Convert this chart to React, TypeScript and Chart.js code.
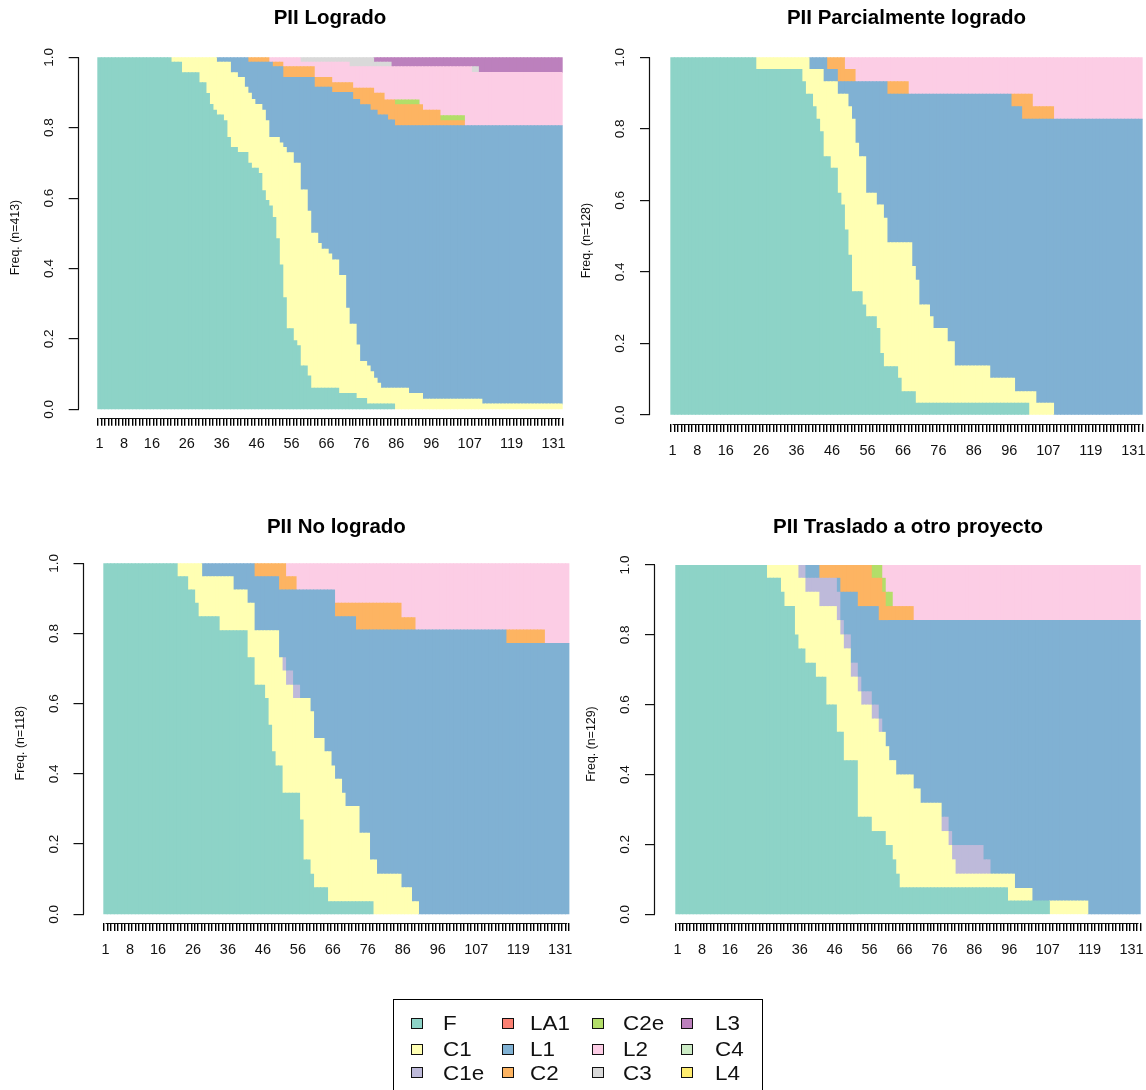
import React, { useEffect, useRef } from "react";
import { Chart, registerables } from "chart.js";

Chart.register(...registerables);

type Run = [number, number | null];

const FONT = "'Liberation Sans', Arial, Helvetica, sans-serif";
const CANVAS_W = 1200;
const CANVAS_H = 1090;
const Y_AXIS_W = 72;
const X_AXIS_H = 60;

// ---------- categories / ticks ----------
const positionCount = 133;
const positions: number[] = Array.from({ length: positionCount }, (_, i) => i + 1);
const xTickLabels = [1, 8, 16, 26, 36, 46, 56, 66, 76, 86, 96, 107, 119, 131];
const yTicks = [0, 0.2, 0.4, 0.6, 0.8, 1.0];

const stateNames = ["F", "C1", "C1e", "LA1", "L1", "C2", "C2e", "L2", "C3", "L3", "C4", "L4"];
const stateColors = ["#8DD3C7", "#FFFFB3", "#BEBADA", "#FB8072", "#80B1D3", "#FDB462", "#B3DE69", "#FCCDE5", "#D9D9D9", "#BC80BD", "#CCEBC5", "#FFED6F"];

// ---------- data: upper edge (cumulative share) of each state band, as steps [from position, value] ----------
// PII Logrado (n=413)
const logradoF: Run[] = [[1, 1.0], [22, 0.986], [25, 0.956], [30, 0.928], [32, 0.897], [33, 0.866], [34, 0.85], [35, 0.836], [37, 0.82], [38, 0.772], [39, 0.744], [41, 0.73], [44, 0.699], [45, 0.685], [47, 0.67], [48, 0.621], [49, 0.593], [50, 0.578], [51, 0.545], [52, 0.485], [53, 0.41], [54, 0.317], [55, 0.229], [57, 0.195], [58, 0.181], [59, 0.123], [61, 0.095], [62, 0.06], [70, 0.045], [75, 0.031], [78, 0.015], [86, 0]];
const logradoC1: Run[] = [[1, 1.0], [35, 0.986], [39, 0.956], [41, 0.943], [43, 0.915], [44, 0.898], [45, 0.88], [46, 0.866], [48, 0.85], [49, 0.82], [50, 0.772], [53, 0.757], [54, 0.744], [55, 0.729], [57, 0.699], [59, 0.623], [61, 0.563], [62, 0.5], [64, 0.471], [65, 0.455], [67, 0.441], [68, 0.424], [70, 0.38], [72, 0.287], [73, 0.242], [75, 0.183], [76, 0.136], [78, 0.123], [79, 0.107], [80, 0.088], [81, 0.074], [82, 0.06], [90, 0.045], [94, 0.029], [111, 0.015]];
const logradoL1: Run[] = [[1, null], [35, 1.0], [44, 0.986], [51, 0.973], [54, 0.943], [63, 0.915], [68, 0.9], [74, 0.88], [76, 0.865], [79, 0.85], [81, 0.836], [84, 0.822], [86, 0.806]];
const logradoC2: Run[] = [[1, null], [44, 1.0], [50, null], [51, 0.986], [54, 0.973], [63, 0.943], [68, 0.928], [74, 0.912], [80, 0.898], [83, 0.879], [86, 0.865], [94, 0.85], [99, 0.82], [106, null]];
const logradoC2e: Run[] = [[1, null], [86, 0.879], [93, null], [99, 0.834], [106, null]];
const logradoL2: Run[] = [[1, null], [50, 1.0], [59, 0.986], [73, 0.973], [108, 0.957]];
const logradoC3: Run[] = [[1, null], [59, 1.0], [80, 0.986], [85, null], [108, 0.973], [110, null]];
const logradoL3: Run[] = [[1, null], [80, 1.0]];

// PII Parcialmente logrado (n=128)
const parcialF: Run[] = [[1, 1.0], [25, 0.966], [38, 0.932], [39, 0.897], [41, 0.862], [42, 0.827], [43, 0.792], [44, 0.722], [46, 0.69], [48, 0.62], [49, 0.587], [50, 0.517], [51, 0.447], [52, 0.345], [55, 0.308], [56, 0.275], [59, 0.242], [60, 0.172], [61, 0.135], [65, 0.103], [66, 0.065], [70, 0.033], [102, 0]];
const parcialC1: Run[] = [[1, 1.0], [40, 0.966], [44, 0.932], [48, 0.897], [51, 0.862], [52, 0.827], [53, 0.76], [54, 0.722], [56, 0.62], [59, 0.587], [61, 0.55], [62, 0.482], [69, 0.415], [70, 0.377], [71, 0.308], [74, 0.275], [75, 0.242], [79, 0.205], [81, 0.137], [91, 0.103], [98, 0.065], [104, 0.033], [109, 0]];
const parcialL1: Run[] = [[1, null], [40, 1.0], [45, 0.966], [48, 0.932], [62, 0.897], [97, 0.862], [100, 0.827]];
const parcialC2: Run[] = [[1, null], [45, 1.0], [50, 0.966], [53, null], [62, 0.932], [68, null], [97, 0.897], [103, 0.862], [109, null]];
const parcialL2: Run[] = [[1, null], [50, 1.0]];

// PII No logrado (n=118)
const noLogradoF: Run[] = [[1, 1.0], [22, 0.962], [25, 0.924], [27, 0.886], [28, 0.848], [34, 0.808], [42, 0.731], [44, 0.653], [47, 0.615], [48, 0.539], [49, 0.463], [50, 0.423], [52, 0.345], [57, 0.269], [58, 0.155], [60, 0.114], [61, 0.076], [65, 0.036], [78, 0]];
const noLogradoC1: Run[] = [[1, 1.0], [29, 0.962], [38, 0.924], [42, 0.886], [44, 0.808], [51, 0.731], [52, 0.693], [53, 0.653], [55, 0.615], [60, 0.577], [61, 0.501], [64, 0.463], [66, 0.423], [67, 0.385], [69, 0.345], [70, 0.307], [74, 0.231], [77, 0.155], [79, 0.114], [86, 0.076], [89, 0.036], [91, 0]];
const noLogradoC1e: Run[] = [[1, null], [52, 0.731], [53, 0.693], [55, 0.653], [57, null]];
const noLogradoL1: Run[] = [[1, null], [29, 1.0], [44, 0.962], [51, 0.924], [67, 0.848], [73, 0.81], [116, 0.772]];
const noLogradoC2: Run[] = [[1, null], [44, 1.0], [53, 0.962], [56, null], [67, 0.886], [86, 0.845], [90, null], [116, 0.81], [127, null]];
const noLogradoL2: Run[] = [[1, null], [53, 1.0]];

// PII Traslado a otro proyecto (n=129)
const trasladoF: Run[] = [[1, 1.0], [27, 0.962], [31, 0.922], [32, 0.881], [35, 0.8], [36, 0.76], [38, 0.719], [41, 0.679], [44, 0.599], [47, 0.521], [49, 0.44], [53, 0.278], [57, 0.237], [61, 0.197], [63, 0.156], [64, 0.115], [65, 0.076], [96, 0.038], [108, 0]];
const trasladoC1: Run[] = [[1, 1.0], [36, 0.962], [38, 0.922], [42, 0.881], [47, 0.841], [48, 0.8], [49, 0.76], [51, 0.679], [53, 0.637], [54, 0.599], [57, 0.559], [59, 0.521], [61, 0.48], [62, 0.44], [64, 0.399], [69, 0.359], [71, 0.318], [77, 0.237], [79, 0.197], [80, 0.156], [81, 0.115], [98, 0.074], [103, 0.038], [119, 0]];
const trasladoC1e: Run[] = [[1, null], [36, 1.0], [38, 0.962], [47, 0.922], [48, 0.841], [49, 0.8], [51, 0.719], [53, 0.679], [54, 0.637], [57, 0.599], [59, 0.559], [60, null], [77, 0.278], [79, 0.237], [80, 0.197], [89, 0.156], [91, null]];
const trasladoL1: Run[] = [[1, null], [38, 1.0], [42, null], [47, 0.962], [48, 0.922], [53, 0.881], [59, 0.841]];
const trasladoC2: Run[] = [[1, null], [42, 1.0], [57, 0.962], [60, 0.922], [61, 0.881], [69, null]];
const trasladoC2e: Run[] = [[1, null], [57, 1.0], [60, 0.962], [61, 0.922], [63, null]];
const trasladoL2: Run[] = [[1, null], [60, 1.0]];

type PanelCfg = { title: string; ylab: string; upper: Record<string, Run[]> };

const panels: PanelCfg[] = [
  { title: "PII Logrado", ylab: "Freq. (n=413)", upper: { F: logradoF, C1: logradoC1, L1: logradoL1, C2: logradoC2, C2e: logradoC2e, L2: logradoL2, C3: logradoC3, L3: logradoL3 } },
  { title: "PII Parcialmente logrado", ylab: "Freq. (n=128)", upper: { F: parcialF, C1: parcialC1, L1: parcialL1, C2: parcialC2, L2: parcialL2 } },
  { title: "PII No logrado", ylab: "Freq. (n=118)", upper: { F: noLogradoF, C1: noLogradoC1, C1e: noLogradoC1e, L1: noLogradoL1, C2: noLogradoC2, L2: noLogradoL2 } },
  { title: "PII Traslado a otro proyecto", ylab: "Freq. (n=129)", upper: { F: trasladoF, C1: trasladoC1, C1e: trasladoC1e, L1: trasladoL1, C2: trasladoC2, C2e: trasladoC2e, L2: trasladoL2 } },
];

// ---------- layout (page pixels) ----------
type Geom = { areaLeft: number; barsLeft: number; barsRight: number; yTop: number; yZero: number; axisY: number; titleY: number };
const geometry: Geom[] = [
  { areaLeft: 78.7, barsLeft: 96, barsRight: 564, yTop: 57.3, yZero: 409.3, axisY: 417.7, titleY: 18.5 },
  { areaLeft: 650, barsLeft: 669, barsRight: 1144, yTop: 57.3, yZero: 415, axisY: 424, titleY: 18.5 },
  { areaLeft: 83.5, barsLeft: 102, barsRight: 570.7, yTop: 563.3, yZero: 914.3, axisY: 923, titleY: 527.5 },
  { areaLeft: 655, barsLeft: 674, barsRight: 1142, yTop: 565, yZero: 914.3, axisY: 923, titleY: 527.5 },
];

function expand(runs: Run[] | undefined): (number | null)[] {
  return positions.map((p) => {
    if (!runs) return null;
    let v: number | null = null;
    for (const [from, val] of runs) {
      if (from <= p) v = val;
      else break;
    }
    return v;
  });
}

function computeShares(upper: Record<string, Run[]>): (number | null)[][] {
  const edges = stateNames.map((s) => expand(upper[s]));
  const out = stateNames.map(() => positions.map(() => null as number | null));
  positions.forEach((_, i) => {
    let prev = 0;
    stateNames.forEach((_, si) => {
      const top = edges[si][i];
      if (top == null || top <= prev + 1e-6) return;
      out[si][i] = top - prev;
      prev = top;
    });
  });
  return out;
}

const axisLines = {
  id: "axisLines",
  afterDraw(chart: any) {
    const { ctx, chartArea } = chart;
    const xs = chart.scales.x;
    const ys = chart.scales.y;
    ctx.save();
    ctx.strokeStyle = "#111";
    ctx.lineWidth = 1.2;
    ctx.beginPath();
    const ax = Math.round(chartArea.left) - 0.5;
    ctx.moveTo(ax, ys.getPixelForValue(0));
    ctx.lineTo(ax, ys.getPixelForValue(1));
    const ay = Math.round(chartArea.bottom) + 0.5;
    ctx.moveTo(xs.getPixelForValue(1), ay);
    ctx.lineTo(xs.getPixelForValue(positionCount), ay);
    ctx.stroke();
    ctx.restore();
  },
};

function Panel({ cfg, g }: { cfg: PanelCfg; g: Geom }) {
  const ref = useRef<HTMLCanvasElement>(null);
  useEffect(() => {
    if (!ref.current) return;
    const u = (g.barsRight - g.barsLeft) / positionCount;
    const gap = g.barsLeft - g.areaLeft;
    const areaRight = g.barsRight + gap;
    const xMin = 0.5 - gap / u;
    const xMax = positionCount + 0.5 + gap / u;
    const yMin = -(g.axisY - g.yZero) / (g.yZero - g.yTop);
    const shares = computeShares(cfg.upper);
    const titleSize = 20.5;
    const titleBoxTop = g.titleY - titleSize * 0.6;
    const datasets = stateNames
      .map((s, si) => ({
        label: s,
        data: positions.map((p, i) => ({ x: p, y: shares[si][i] })),
        backgroundColor: stateColors[si],
        borderWidth: 0,
        barPercentage: 1,
        categoryPercentage: 1,
        inflateAmount: 0.45,
      }))
      .filter((ds) => ds.data.some((d) => d.y != null));

    const chart = new Chart(ref.current, {
      type: "bar",
      data: { datasets } as any,
      options: {
        animation: false,
        responsive: false,
        events: [],
        layout: {
          padding: {
            left: g.areaLeft - Y_AXIS_W,
            right: CANVAS_W - areaRight,
            top: titleBoxTop,
            bottom: CANVAS_H - g.axisY - X_AXIS_H,
          },
        },
        plugins: {
          legend: { display: false },
          tooltip: { enabled: false },
          title: {
            display: true,
            text: cfg.title,
            fullSize: false,
            color: "#000",
            font: { family: FONT, size: titleSize, weight: "bold" },
            padding: { top: 0, bottom: g.yTop - titleBoxTop - titleSize * 1.2 },
          },
        },
        scales: {
          x: {
            type: "linear",
            stacked: true,
            min: xMin,
            max: xMax,
            afterBuildTicks: (s: any) => {
              s.ticks = positions.map((v) => ({ value: v }));
            },
            afterFit: (s: any) => {
              s.height = X_AXIS_H;
            },
            grid: { drawOnChartArea: false, drawTicks: true, tickLength: 8, color: "#000", lineWidth: 1.4 },
            border: { display: false },
            ticks: {
              autoSkip: false,
              maxRotation: 0,
              minRotation: 0,
              padding: 10,
              color: "#111",
              font: { family: FONT, size: 14.5 },
              callback: (v: any) => (xTickLabels.includes(Number(v)) ? String(v) : ""),
            },
          },
          y: {
            type: "linear",
            stacked: true,
            min: yMin,
            max: 1,
            afterBuildTicks: (s: any) => {
              s.ticks = yTicks.map((v) => ({ value: v }));
            },
            afterFit: (s: any) => {
              s.width = Y_AXIS_W;
            },
            grid: { drawOnChartArea: false, drawTicks: true, tickLength: 10, color: "#111", lineWidth: 1.2 },
            border: { display: false },
            ticks: {
              minRotation: 90,
              maxRotation: 90,
              crossAlign: "center",
              padding: 10.2,
              color: "#111",
              font: { family: FONT, size: 13.5 },
              callback: (v: any) => Number(v).toFixed(1),
            },
            title: {
              display: true,
              text: cfg.ylab,
              color: "#111",
              font: { family: FONT, size: 12.4 },
              padding: { top: Y_AXIS_W - 63.4 - 7.44, bottom: 0 },
            },
          },
        },
      } as any,
      plugins: [axisLines],
    });
    return () => chart.destroy();
  }, []);
  return (
    <canvas
      ref={ref}
      width={CANVAS_W}
      height={CANVAS_H}
      style={{ position: "absolute", left: 0, top: 0, width: CANVAS_W, height: CANVAS_H }}
    />
  );
}

const legendColLeft = [410.7, 501.7, 592.3, 681];
const legendTextLeft = [443, 530, 623, 715];
const legendRowY = [1023.3, 1049, 1072.7];

function Legend() {
  return (
    <div style={{ position: "absolute", left: 0, top: 0, width: 1146, height: 1090, pointerEvents: "none" }}>
      <div
        style={{
          position: "absolute",
          left: 393.3,
          top: 999.3,
          width: 369.4,
          height: 110,
          border: "1.5px solid #000",
          boxSizing: "border-box",
        }}
      />
      {stateNames.map((s, i) => {
        const col = Math.floor(i / 3);
        const row = i % 3;
        const cy = legendRowY[row];
        return (
          <React.Fragment key={s}>
            <div
              style={{
                position: "absolute",
                left: legendColLeft[col],
                top: cy - 5.5,
                width: 12,
                height: 11,
                background: stateColors[i],
                border: "1.3px solid #111",
                boxSizing: "border-box",
              }}
            />
            <div
              style={{
                position: "absolute",
                left: legendTextLeft[col],
                top: cy - 12,
                height: 24,
                lineHeight: "24px",
                fontFamily: FONT,
                fontSize: 19.5,
                color: "#111",
                transform: "scaleX(1.15)",
                transformOrigin: "left center",
                whiteSpace: "nowrap",
              }}
            >
              {s}
            </div>
          </React.Fragment>
        );
      })}
    </div>
  );
}

export default function App() {
  return (
    <div
      style={{
        position: "absolute",
        left: 0,
        top: 0,
        width: 1146,
        height: 1090,
        overflow: "hidden",
        background: "#fff",
      }}
    >
      {panels.map((p, i) => (
        <Panel key={p.title} cfg={p} g={geometry[i]} />
      ))}
      <Legend />
    </div>
  );
}
